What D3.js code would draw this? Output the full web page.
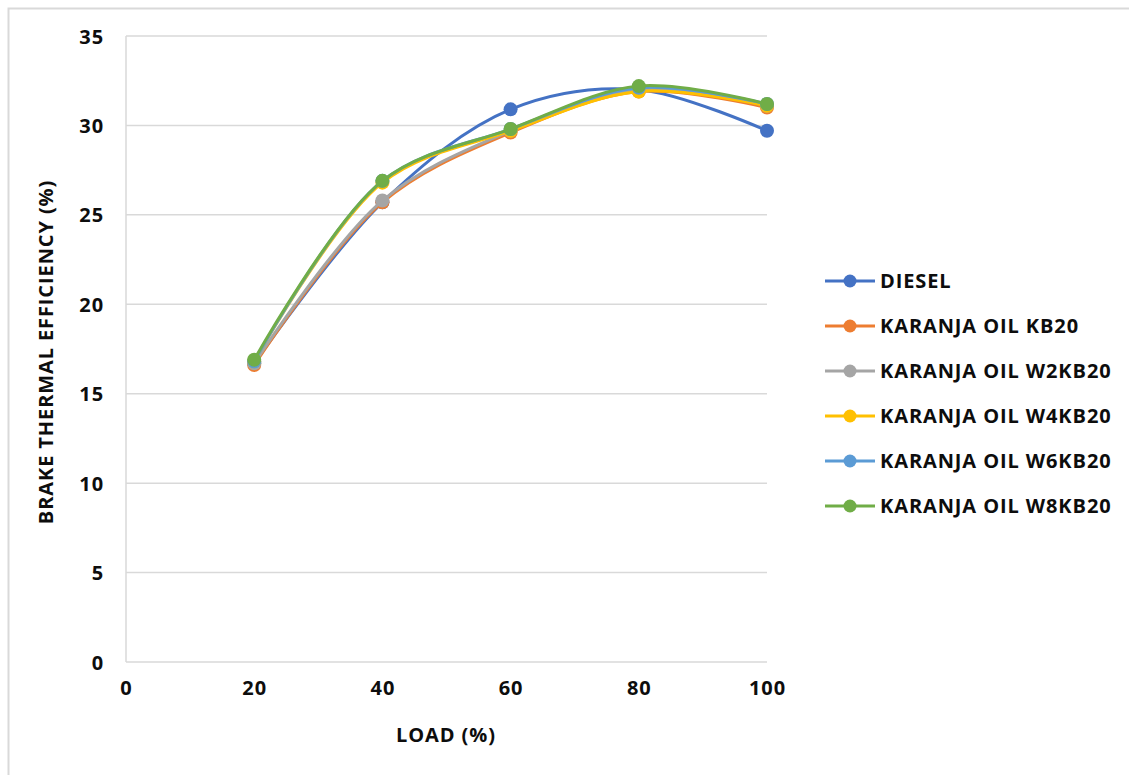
<!DOCTYPE html>
<html>
<head>
<meta charset="utf-8">
<script src="https://cdn.jsdelivr.net/npm/d3@7"></script>
<style>
  body { margin: 0; background: #fff; }
  text { font-family: "Open Sans", "Liberation Sans", sans-serif; font-weight: bold; fill: #0d0d0d; letter-spacing: 0.9px; }
</style>
</head>
<body>
<div id="chart"></div>
<script>
// datos
const loads = [20, 40, 60, 80, 100];
const seriesNames = ["DIESEL", "KARANJA OIL KB20", "KARANJA OIL W2KB20", "KARANJA OIL W4KB20", "KARANJA OIL W6KB20", "KARANJA OIL W8KB20"];
const diesel = [16.7, 25.7, 30.9, 32.0, 29.7];
const kb20 = [16.6, 25.7, 29.6, 31.9, 31.0];
const w2kb20 = [16.7, 25.8, 29.7, 32.0, 31.1];
const w4kb20 = [16.8, 26.8, 29.7, 31.9, 31.1];
const w6kb20 = [16.8, 26.9, 29.8, 32.1, 31.2];
const w8kb20 = [16.9, 26.9, 29.8, 32.2, 31.2];
const xTicks = [0, 20, 40, 60, 80, 100];
const yTicks = [0, 5, 10, 15, 20, 25, 30, 35];
const colors = ["#4472C4", "#ED7D31", "#A5A5A5", "#FFC000", "#5B9BD5", "#70AD47"];

const allSeries = [diesel, kb20, w2kb20, w4kb20, w6kb20, w8kb20];

const width = 1129, height = 775;
const margin = { top: 36, left: 126, right: 362, bottom: 113 };

const svg = d3.select("#chart")
    .append("svg")
    .attr("width", width)
    .attr("height", height);

// marco exterior
svg.append("rect")
    .attr("x", 8.5).attr("y", 8.5)
    .attr("width", 1300).attr("height", 1000)
    .attr("fill", "none")
    .attr("stroke", "#d9d9d9")
    .attr("stroke-width", 2);

const x = d3.scaleLinear().domain([0, 100]).range([margin.left, width - margin.right]);
const y = d3.scaleLinear().domain([0, 35]).range([height - margin.bottom, margin.top]);

// rejilla horizontal
svg.append("g")
    .selectAll("line")
    .data(yTicks)
    .join("line")
    .attr("x1", x(0)).attr("x2", x(100))
    .attr("y1", d => y(d)).attr("y2", d => y(d))
    .attr("stroke", "#d9d9d9")
    .attr("stroke-width", 1.5);

// eje vertical
svg.append("line")
    .attr("x1", x(0)).attr("x2", x(0))
    .attr("y1", y(0)).attr("y2", y(35))
    .attr("stroke", "#d9d9d9")
    .attr("stroke-width", 1.5);

const yAxis = svg.append("g")
    .attr("transform", `translate(${x(0)},0)`)
    .call(d3.axisLeft(y).tickValues(yTicks).tickSize(0).tickPadding(22));
yAxis.select(".domain").remove();
yAxis.selectAll("text").style("font-size", "20px").attr("dy", "0.35em");

const xAxis = svg.append("g")
    .attr("transform", `translate(0,${y(0)})`)
    .call(d3.axisBottom(x).tickValues(xTicks).tickSize(0).tickPadding(19));
xAxis.select(".domain").remove();
xAxis.selectAll("text").style("font-size", "20px");

svg.append("text")
    .attr("x", 446).attr("y", 742)
    .attr("text-anchor", "middle")
    .style("font-size", "20px")
    .text("LOAD (%)");

svg.append("text")
    .attr("transform", "translate(53,352) rotate(-90)")
    .attr("text-anchor", "middle")
    .style("font-size", "20px")
    .text("BRAKE THERMAL EFFICIENCY (%)");

const line = d3.line()
    .x((d, i) => x(loads[i]))
    .y(d => y(d))
    .curve(d3.curveCatmullRom.alpha(0.5));

const groups = svg.selectAll("g.series")
    .data(allSeries)
    .join("g")
    .attr("class", "series");

groups.append("path")
    .attr("d", d => line(d))
    .attr("fill", "none")
    .attr("stroke", (d, i) => colors[i])
    .attr("stroke-width", 3);

groups.selectAll("circle")
    .data(d => d)
    .join("circle")
    .attr("cx", (d, i) => x(loads[i]))
    .attr("cy", d => y(d))
    .attr("r", 7)
    .attr("fill", function () { return colors[allSeries.indexOf(d3.select(this.parentNode).datum())]; });

// leyenda
const legend = svg.append("g")
    .selectAll("g")
    .data(seriesNames)
    .join("g")
    .attr("transform", (d, i) => `translate(825,${281 + i * 45})`);

legend.append("line")
    .attr("x1", 0).attr("x2", 50)
    .attr("stroke", (d, i) => colors[i])
    .attr("stroke-width", 3);

legend.append("circle")
    .attr("cx", 25)
    .attr("r", 6.5)
    .attr("fill", (d, i) => colors[i]);

legend.append("text")
    .attr("x", 55)
    .attr("dy", "0.35em")
    .style("font-size", "20px")
    .text(d => d);
</script>
</body>
</html>
